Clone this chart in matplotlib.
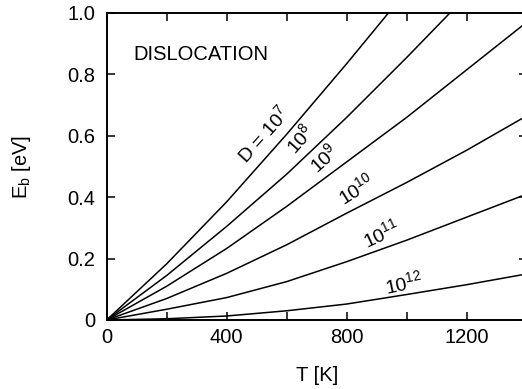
import matplotlib
matplotlib.use("Agg")
import matplotlib.pyplot as plt
from matplotlib.ticker import MultipleLocator

plt.rcParams['font.family'] = ['Liberation Sans', 'DejaVu Sans']
plt.rcParams['mathtext.default'] = 'regular'

# temperature grid [K]
T = [0, 200, 400, 600, 800, 1000, 1200, 1400]

# E_b [eV] for each D
T_1e7 = [0, 200, 400, 600, 800, 939]
E_1e7 = [0, 0.183, 0.385, 0.605, 0.835, 1.0]
T_1e8 = [0, 200, 400, 600, 800, 1000, 1144]
E_1e8 = [0, 0.145, 0.305, 0.475, 0.66, 0.855, 1.0]
E_1e9 = [0, 0.11, 0.233, 0.37, 0.515, 0.66, 0.815, 0.97]
E_1e10 = [0, 0.07, 0.152, 0.245, 0.348, 0.448, 0.553, 0.665]
E_1e11 = [0, 0.035, 0.073, 0.125, 0.19, 0.26, 0.335, 0.41]
E_1e12 = [0, 0.004, 0.013, 0.03, 0.052, 0.083, 0.115, 0.15]

# curve labels: text, T, E, rotation
labels = ["D = 10$^{7}$", "10$^{8}$", "10$^{9}$", "10$^{10}$", "10$^{11}$", "10$^{12}$"]
label_T = [520, 645, 725, 830, 915, 990]
label_E = [0.605, 0.59, 0.525, 0.425, 0.28, 0.12]
label_rot = [48, 48, 42, 32, 25, 12]

fig = plt.figure(figsize=(5.22, 3.89), dpi=100)
ax = fig.add_axes([0.2044, 0.1774, 0.8046, 0.7892])

kw = dict(color='black', lw=1.1)
ax.plot(T_1e7, E_1e7, **kw)
ax.plot(T_1e8, E_1e8, **kw)
ax.plot(T, E_1e9, **kw)
ax.plot(T, E_1e10, **kw)
ax.plot(T, E_1e11, **kw)
ax.plot(T, E_1e12, **kw)

for txt, x, y, r in zip(labels, label_T, label_E, label_rot):
    ax.text(x, y, txt, rotation=r, rotation_mode='anchor', ha='center',
            va='center', fontsize=14)

ax.text(88, 0.847, "DISLOCATION", fontsize=14.5, ha='left', va='baseline')

ax.set_xlim(0, 1400)
ax.set_ylim(0, 1.0)
ax.xaxis.set_major_locator(MultipleLocator(400))
ax.xaxis.set_minor_locator(MultipleLocator(200))
ax.set_yticks([0, 0.2, 0.4, 0.6, 0.8, 1.0], ["0", "0.2", "0.4", "0.6", "0.8", "1.0"])
ax.tick_params(which='both', direction='in', top=True, right=True,
               length=6, width=1.1, labelsize=14.5)
ax.tick_params(axis='x', pad=6)
ax.tick_params(axis='y', pad=8)

for s in ax.spines.values():
    s.set_linewidth(1.4)

ax.set_xlabel("T [K]", fontsize=14.5)
ax.set_ylabel("E$_b$ [eV]", fontsize=14.5)
ax.xaxis.set_label_coords(0.5, -0.15)
ax.yaxis.set_label_coords(-0.176, 0.5)

fig.savefig("out.png", dpi=100)
